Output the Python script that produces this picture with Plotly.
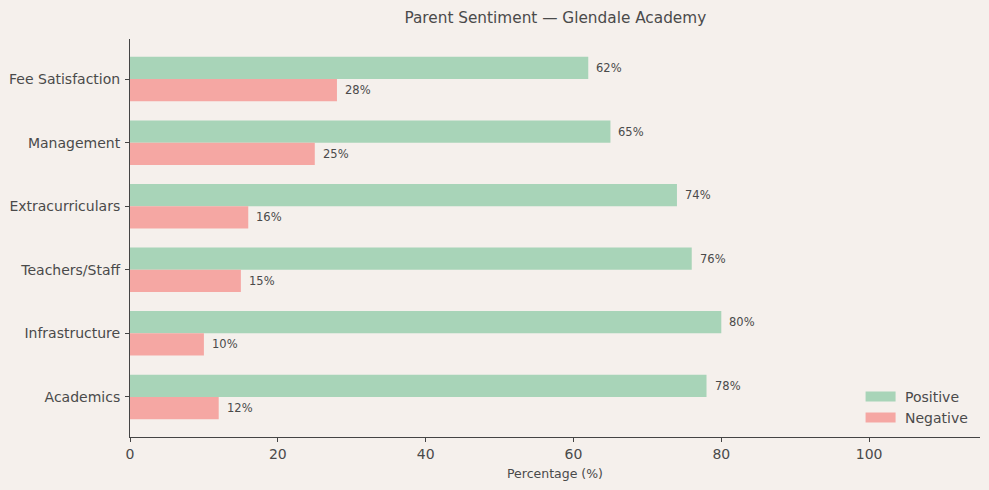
import plotly.graph_objects as go

categories = ["Academics", "Infrastructure", "Teachers/Staff", "Extracurriculars", "Management", "Fee Satisfaction"]
positive = [78, 80, 76, 74, 65, 62]
negative = [12, 10, 15, 16, 25, 28]

BG = "#f5f0ec"
TXT = "#4a4a4a"
POS_C = "#a8d4b8"
NEG_C = "#f5a7a3"
bw = 0.35

idx = list(range(len(categories)))
pos_y = [i + bw / 2 for i in idx]
neg_y = [i - bw / 2 for i in idx]

fig = go.Figure()
fig.add_trace(go.Bar(
    y=pos_y, x=positive, orientation="h", width=bw, showlegend=False,
    name="Positive", marker=dict(color=POS_C, line=dict(width=0)),
))
fig.add_trace(go.Bar(
    y=neg_y, x=negative, orientation="h", width=bw, showlegend=False,
    name="Negative", marker=dict(color=NEG_C, line=dict(width=0)),
))
# legend entries with wide rectangular swatches
fig.add_trace(go.Scatter(x=[None], y=[None], mode="lines", name=" Positive",
                         line=dict(color=POS_C, width=10)))
fig.add_trace(go.Scatter(x=[None], y=[None], mode="lines", name=" Negative",
                         line=dict(color=NEG_C, width=10)))

annotations = []
for vals, ys in ((positive, pos_y), (negative, neg_y)):
    for v, y in zip(vals, ys):
        annotations.append(dict(x=v, y=y, xref="x", yref="y", text=f"{v}%",
                                showarrow=False, xanchor="left", yanchor="middle",
                                xshift=6, font=dict(size=11.5, color=TXT)))

fig.update_layout(
    width=989, height=490,
    paper_bgcolor=BG, plot_bgcolor=BG,
    font=dict(family="DejaVu Sans", color=TXT, size=14),
    margin=dict(l=130, r=9, t=39, b=53),
    title=dict(text="Parent Sentiment — Glendale Academy", x=0.5615, xanchor="center",
               y=0.965, yanchor="middle", font=dict(size=15.3, color=TXT)),
    barmode="overlay",
    showlegend=True,
    annotations=annotations,
    legend=dict(x=0.8595, y=0.008, xanchor="left", yanchor="bottom",
                bgcolor="rgba(0,0,0,0)", font=dict(size=14, color=TXT),
                traceorder="normal"),
    xaxis=dict(range=[0, 115], tickvals=[0, 20, 40, 60, 80, 100], showgrid=False,
               zeroline=False, showline=True, linecolor="#444444", linewidth=1,
               ticks="outside", ticklen=4, tickcolor="#444444",
               tickfont=dict(size=14, color=TXT),
               title=dict(text="Percentage (%)", font=dict(size=12.5, color=TXT), standoff=8)),
    yaxis=dict(range=[-0.63, 5.63], tickvals=idx, ticktext=categories, showgrid=False,
               zeroline=False, showline=True, linecolor="#444444", linewidth=1,
               ticks="outside", ticklen=4, tickcolor="#444444", ticklabelstandoff=2,
               tickfont=dict(size=14, color=TXT)),
)
fig.write_html("out.html")
